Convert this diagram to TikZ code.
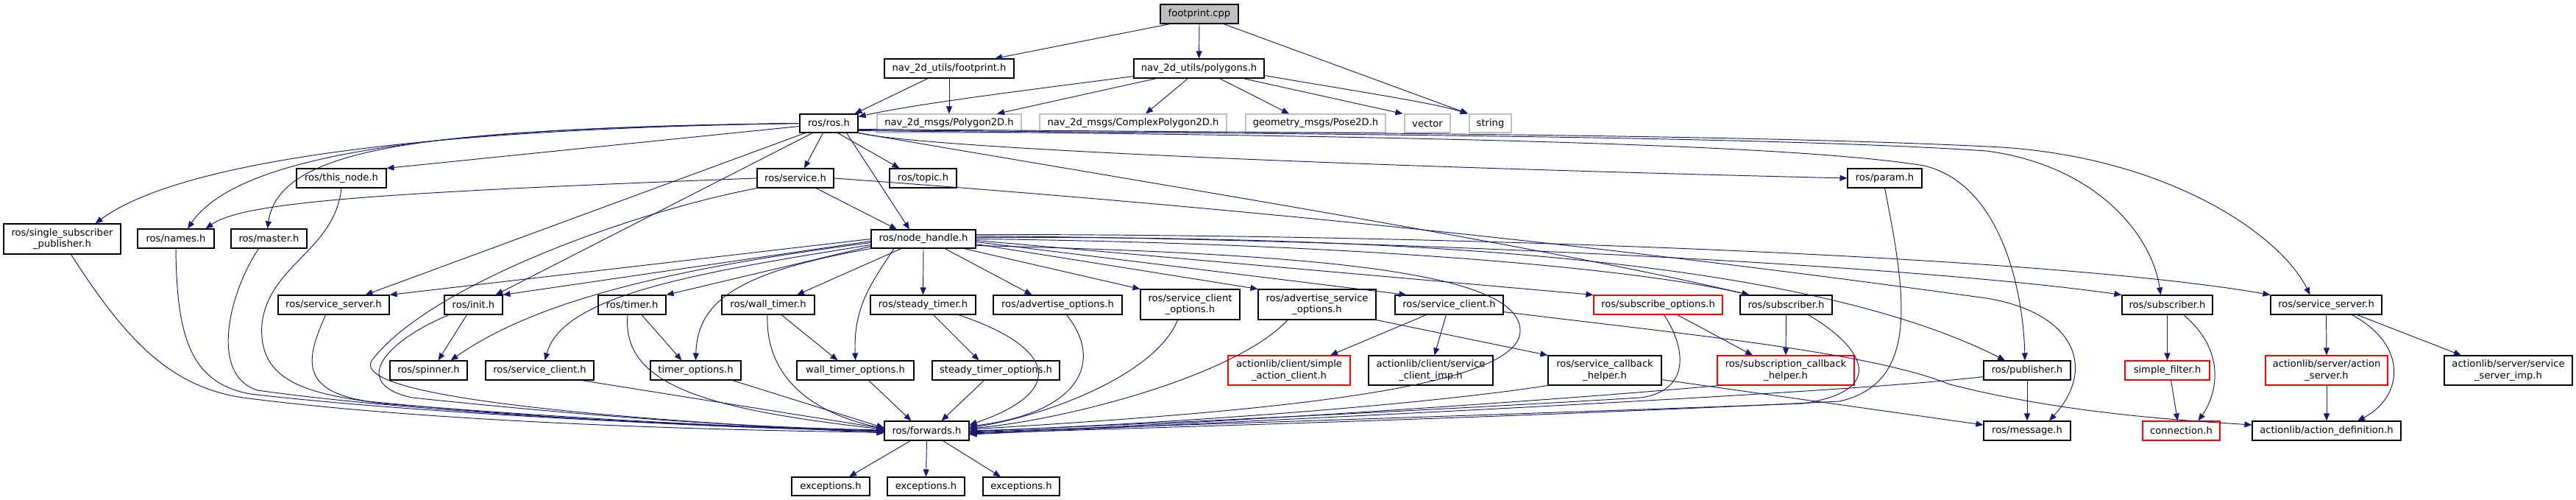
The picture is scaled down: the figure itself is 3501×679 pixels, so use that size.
\documentclass[tikz,border=0pt]{standalone}
\usepackage{fontspec}
\setmainfont{DejaVu Sans}
\usetikzlibrary{arrows.meta}
\definecolor{edgec}{HTML}{191970}
\definecolor{grayc}{HTML}{BFBFBF}
\newcommand\mkbox[7]{\node[#7, minimum width=#4pt-#2pt, minimum height=#5pt-#3pt] (#1) at ({(#2+#4)/2},{(#3+#5)/2}) {#6};}
\begin{document}
\begin{tikzpicture}[x=1pt,y=-1pt,
  box/.style={draw=black, line width=1.1pt, fill=white, inner sep=0pt, align=center,
    font=\fontsize{13.1}{15.5}\selectfont},
  gbox/.style={box, draw=grayc},
  rbox/.style={box, draw=red},
  cbox/.style={box, fill=grayc},
  e/.style={draw=edgec, line width=0.95pt, -{Triangle[length=10pt,width=8pt]}}]
\useasboundingbox[fill=white] (0,0) rectangle (3501,679);
% nodes
\mkbox{cpp}{1577}{6}{1683}{32}{footprint.cpp}{cbox}
\mkbox{fph}{1202}{80}{1378}{106}{nav\_2d\_utils/footprint.h}{box}
\mkbox{poly}{1541}{80}{1718}{106}{nav\_2d\_utils/polygons.h}{box}
\mkbox{ros}{1087}{155}{1166}{180}{ros/ros.h}{box}
\mkbox{p2d}{1192}{155}{1388}{180}{nav\_2d\_msgs/Polygon2D.h}{gbox}
\mkbox{cp2d}{1413}{155}{1667}{180}{nav\_2d\_msgs/ComplexPolygon2D.h}{gbox}
\mkbox{pose}{1693}{155}{1883}{180}{geometry\_msgs/Pose2D.h}{gbox}
\mkbox{vec}{1909}{155}{1971}{180}{vector}{gbox}
\mkbox{str}{1997}{155}{2054}{180}{string}{gbox}
\mkbox{thisn}{403}{229}{525}{255}{ros/this\_node.h}{box}
\mkbox{srv}{1029}{229}{1133}{255}{ros/service.h}{box}
\mkbox{topic}{1209}{229}{1300}{255}{ros/topic.h}{box}
\mkbox{param}{2511}{229}{2612}{255}{ros/param.h}{box}
\mkbox{ssp}{5}{304}{164}{345}{ros/single\_subscriber\\\_publisher.h}{box}
\mkbox{names}{187}{311}{291}{337}{ros/names.h}{box}
\mkbox{master}{314}{311}{417}{337}{ros/master.h}{box}
\mkbox{nh}{1184}{312}{1326}{337}{ros/node\_handle.h}{box}
\mkbox{ssL}{378}{401}{529}{427}{ros/service\_server.h}{box}
\mkbox{init}{604}{401}{683}{427}{ros/init.h}{box}
\mkbox{timer}{813}{401}{905}{427}{ros/timer.h}{box}
\mkbox{wtimer}{981}{401}{1107}{427}{ros/wall\_timer.h}{box}
\mkbox{stimer}{1183}{401}{1326}{427}{ros/steady\_timer.h}{box}
\mkbox{advo}{1350}{401}{1525}{427}{ros/advertise\_options.h}{box}
\mkbox{sco}{1550}{393}{1685}{434}{ros/service\_client\\\_options.h}{box}
\mkbox{aso}{1710}{393}{1870}{434}{ros/advertise\_service\\\_options.h}{box}
\mkbox{scU}{1896}{401}{2043}{427}{ros/service\_client.h}{box}
\mkbox{subo}{2166}{401}{2341}{427}{ros/subscribe\_options.h}{rbox}
\mkbox{sub1}{2365}{401}{2490}{427}{ros/subscriber.h}{box}
\mkbox{sub2}{2884}{401}{3007}{427}{ros/subscriber.h}{box}
\mkbox{ssR}{3086}{401}{3237}{427}{ros/service\_server.h}{box}
\mkbox{spin}{530}{490}{635}{516}{ros/spinner.h}{box}
\mkbox{scL}{660}{490}{807}{516}{ros/service\_client.h}{box}
\mkbox{tmo}{884}{490}{1007}{516}{timer\_options.h}{box}
\mkbox{wto}{1083}{490}{1242}{516}{wall\_timer\_options.h}{box}
\mkbox{sto}{1267}{490}{1440}{516}{steady\_timer\_options.h}{box}
\mkbox{sac}{1669}{483}{1835}{523}{actionlib/client/simple\\\_action\_client.h}{rbox}
\mkbox{sci}{1860}{483}{2029}{523}{actionlib/client/service\\\_client\_imp.h}{box}
\mkbox{sch}{2104}{483}{2258}{523}{ros/service\_callback\\\_helper.h}{box}
\mkbox{subh}{2334}{483}{2520}{523}{ros/subscription\_callback\\\_helper.h}{rbox}
\mkbox{pub}{2696}{490}{2814}{516}{ros/publisher.h}{box}
\mkbox{sf}{2888}{490}{3003}{516}{simple\_filter.h}{rbox}
\mkbox{as}{3079}{483}{3245}{523}{actionlib/server/action\\\_server.h}{rbox}
\mkbox{ssi}{3322}{483}{3496}{523}{actionlib/server/service\\\_server\_imp.h}{box}
\mkbox{fwd}{1202}{572}{1317}{598}{ros/forwards.h}{box}
\mkbox{msg}{2696}{572}{2814}{598}{ros/message.h}{box}
\mkbox{conn}{2912}{572}{3017}{598}{connection.h}{rbox}
\mkbox{adef}{3061}{572}{3263}{598}{actionlib/action\_definition.h}{box}
\mkbox{exa}{1076}{648}{1182}{673}{exceptions.h}{box}
\mkbox{exb}{1206}{648}{1311}{673}{exceptions.h}{box}
\mkbox{exc}{1336}{648}{1440}{673}{exceptions.h}{box}
% top edges
\draw[e] ([xshift=-40]cpp.south) -- ([xshift=62]fph.north);
\draw[e] (cpp.south) -- (poly.north);
\draw[e] ([xshift=33]cpp.south) -- ([xshift=-30]str.north);
\draw[e] ([xshift=-29]fph.south) -- ([xshift=-5]ros.north east);
\draw[e] (fph.south) -- (p2d.north);
\draw[e] ([yshift=3]poly.south west) .. controls (1400,122) and (1250,140) .. ([yshift=-4]ros.north east);
\draw[e] ([xshift=-58]poly.south) -- ([xshift=65]p2d.north);
\draw[e] ([xshift=-15]poly.south) -- ([xshift=17]cp2d.north);
\draw[e] ([xshift=28]poly.south) -- ([xshift=-36]pose.north);
\draw[e] ([xshift=60]poly.south) -- ([xshift=-2]vec.north west);
\draw[e] ([yshift=4]poly.south east) .. controls (1850,125) and (1950,140) .. ([xshift=-2]str.north west);
% ros.h edges
\draw[e] (ros.west) .. controls (600,175) and (250,215) .. ([xshift=45]ssp.north);
\draw[e] (ros.west) .. controls (650,172) and (330,200) .. ([xshift=16]names.north);
\draw[e] (ros.west) .. controls (600,175) and (380,195) .. ([xshift=-2]master.north);
\draw[e] ([yshift=-4]ros.west) -- (thisn.north east);
\draw[e] ([xshift=-32]ros.south) -- ([xshift=43]ssL.north);
\draw[e] ([xshift=-22]ros.south) -- ([xshift=30]init.north);
\draw[e] ([xshift=-8]ros.south) -- ([xshift=12]srv.north);
\draw[e] ([xshift=12]ros.south) -- ([xshift=-32]topic.north);
\draw[e] ([xshift=24]ros.south) -- ([xshift=-19]nh.north);
\draw[e] (ros.south east) .. controls (1250,200) and (1800,225) .. (param.west);
\draw[e] (ros.south east) .. controls (1600,255) and (2100,335) .. ([xshift=-50]sub1.north);
\draw[e] ([yshift=3]ros.south east) .. controls (1700,183) and (2400,190) .. (2615,225) .. controls (2722,251) and (2750,400) .. ([xshift=-3]pub.north);
\draw[e] ([yshift=4]ros.south east) .. controls (1800,182) and (2400,185) .. (2700,205) .. controls (2850,225) and (2925,320) .. ([xshift=-9]sub2.north);
\draw[e] ([yshift=5]ros.south east) .. controls (1800,180) and (2400,183) .. (2720,200) .. controls (2950,215) and (3100,320) .. ([xshift=-22]ssR.north);
% service.h edges
\draw[e] (srv.west) .. controls (500,262) and (330,275) .. ([xshift=-12]names.north east);
\draw[e] ([xshift=28]srv.south) -- ([xshift=-36]nh.north);
\draw[e] (srv.south west) .. controls (850,290) and (580,390) .. (505,490) .. controls (485,525) and (650,560) .. ([yshift=-3]fwd.west);
\draw[e] (srv.east) .. controls (1800,290) and (2300,350) .. (2700,405) .. controls (2820,425) and (2850,500) .. ([xshift=30]msg.north);
% node_handle edges
\draw[e] (nh.west) -- (ssL.north east);
\draw[e] ([yshift=-3]nh.west) -- (init.north east);
\draw[e] ([yshift=-5]nh.west) .. controls (950,360) and (740,400) .. ([xshift=30]spin.north);
\draw[e] ([yshift=-8]nh.west) .. controls (950,370) and (765,400) .. ([xshift=7]scL.north);
\draw[e] ([yshift=-10]nh.west) -- (timer.north east);
\draw[e] (nh.south west) .. controls (1000,370) and (948,410) .. (tmo.north);
\draw[e] ([xshift=-30]nh.south) -- ([xshift=39]wtimer.north);
\draw[e] ([xshift=-40]nh.south) .. controls (1180,390) and (1160,420) .. (wto.north);
\draw[e] (nh.south) -- (stimer.north);
\draw[e] ([xshift=29]nh.south) -- ([xshift=-35]advo.north);
\draw[e] ([xshift=55]nh.south) -- (sco.north west);
\draw[e] ([yshift=-7]nh.east) -- (aso.north west);
\draw[e] ([yshift=-4]nh.east) -- ([xshift=16]scU.north west);
\draw[e] ([yshift=-2]nh.east) -- (subo.north west);
\draw[e] (nh.east) .. controls (1800,330) and (2200,360) .. ([xshift=-50]sub1.north);
\draw[e] ([yshift=2]nh.east) .. controls (1900,320) and (2450,350) .. ([xshift=-30]pub.north);
\draw[e] ([yshift=4]nh.east) .. controls (1900,325) and (2600,360) .. (sub2.north west);
\draw[e] ([yshift=6]nh.east) .. controls (2000,318) and (2800,350) .. (ssR.north west);
\draw[e] ([yshift=-9]nh.east) .. controls (1800,345) and (2068,370) .. (2066,450) .. controls (2064,530) and (1700,560) .. ([yshift=2]fwd.east);
% into forwards from the left
\draw[e] ([xshift=12]ssp.south) .. controls (170,460) and (230,525) .. (330,540) .. controls (600,575) and (1000,585) .. ([yshift=-2]fwd.west);
\draw[e] (names.south) .. controls (240,460) and (260,520) .. (340,535) .. controls (600,565) and (1000,580) .. ([yshift=-1]fwd.west);
\draw[e] ([xshift=-14]master.south) .. controls (310,400) and (285,510) .. (350,530) .. controls (600,565) and (1000,580) .. (fwd.west);
\draw[e] (thisn.south) .. controls (455,340) and (365,360) .. (356,440) .. controls (350,520) and (420,535) .. (520,548) .. controls (800,570) and (1000,580) .. (fwd.west);
\draw[e] ([xshift=-11]ssL.south) .. controls (420,480) and (400,530) .. (500,545) .. controls (750,570) and (1000,582) .. (fwd.west);
\draw[e] ([xshift=-33]init.south) .. controls (530,460) and (470,520) .. (560,540) .. controls (800,565) and (1000,580) .. ([yshift=1]fwd.west);
\draw[e] ([xshift=-9]init.south) -- ([xshift=13]spin.north);
\draw[e] ([xshift=57]scL.south) -- ([yshift=3]fwd.west);
\draw[e] ([xshift=-6]timer.south) .. controls (845,520) and (950,555) .. ([yshift=2]fwd.west);
\draw[e] ([xshift=13]timer.south) -- ([xshift=-19]tmo.north);
\draw[e] ([xshift=50]tmo.south) -- ([yshift=4]fwd.west);
\draw[e] ([xshift=-1]wtimer.south) .. controls (1040,510) and (1100,560) .. ([yshift=3]fwd.west);
\draw[e] ([xshift=18]wtimer.south) -- ([xshift=-24]wto.north);
\draw[e] ([xshift=18]wto.south) -- ([xshift=-21]fwd.north);
\draw[e] ([xshift=14]stimer.south) -- ([xshift=-23]sto.north);
\draw[e] ([xshift=48]stimer.south) .. controls (1430,470) and (1455,530) .. ([yshift=8]fwd.east);
\draw[e] ([xshift=-16]sto.south) -- ([xshift=20]fwd.north);
\draw[e] ([xshift=12]advo.south) .. controls (1500,490) and (1470,560) .. ([yshift=6]fwd.east);
\draw[e] ([xshift=-17]sco.south) .. controls (1570,510) and (1420,565) .. ([yshift=4]fwd.east);
\draw[e] ([xshift=-40]aso.south) .. controls (1680,510) and (1450,570) .. ([yshift=3]fwd.east);
% middle right
\draw[e] (aso.south east) -- (sch.north west);
\draw[e] ([xshift=-31]scU.south) -- ([xshift=56]sac.north);
\draw[e] ([xshift=-4]scU.south) -- ([xshift=5]sci.north);
\draw[e] ([yshift=4]scU.south east) .. controls (2300,455) and (2540,478) .. (2650,522) .. controls (2800,560) and (2950,570) .. ([yshift=8]adef.west);
\draw[e] (sch.south west) .. controls (1900,555) and (1500,580) .. (fwd.east);
\draw[e] ([yshift=8]sch.south east) -- ([yshift=8]msg.west);
\draw[e] ([xshift=26]subo.south) -- ([xshift=-45]subh.north);
\draw[e] ([xshift=8]subo.south) .. controls (2290,470) and (2300,530) .. (2230,540) .. controls (1900,560) and (1500,578) .. ([yshift=-1]fwd.east);
\draw[e] (sub1.south) -- (subh.north);
\draw[e] ([xshift=30]sub1.south) .. controls (2530,470) and (2570,530) .. (2450,548) .. controls (2000,565) and (1500,580) .. ([yshift=-2]fwd.east);
\draw[e] ([xshift=3]subh.south west) .. controls (2100,545) and (1600,578) .. ([yshift=-3]fwd.east);
\draw[e] (param.south) .. controls (2590,400) and (2610,520) .. (2500,545) .. controls (2000,570) and (1500,582) .. ([yshift=-4]fwd.east);
\draw[e] ([yshift=5]pub.south west) .. controls (2500,535) and (1700,572) .. ([yshift=-5]fwd.east);
\draw[e] (pub.south) -- (msg.north);
\draw[e] (sub2.south) -- (sf.north);
\draw[e] ([xshift=22]sub2.south) .. controls (3030,480) and (3010,540) .. ([xshift=23]conn.north);
\draw[e] ([xshift=5]sf.south) -- ([xshift=-5]conn.north);
\draw[e] (ssR.south) -- (as.north);
\draw[e] ([xshift=35]ssR.south) .. controls (3275,470) and (3265,540) .. ([xshift=42]adef.north);
\draw[e] ([xshift=42]ssR.south) -- ([xshift=-64]ssi.north);
\draw[e] (as.south) -- (adef.north);
% forwards -> exceptions
\draw[e] ([xshift=-22]fwd.south) -- ([xshift=25]exa.north);
\draw[e] (fwd.south) -- (exb.north);
\draw[e] ([xshift=22]fwd.south) -- ([xshift=-28]exc.north);
\end{tikzpicture}
\end{document}
